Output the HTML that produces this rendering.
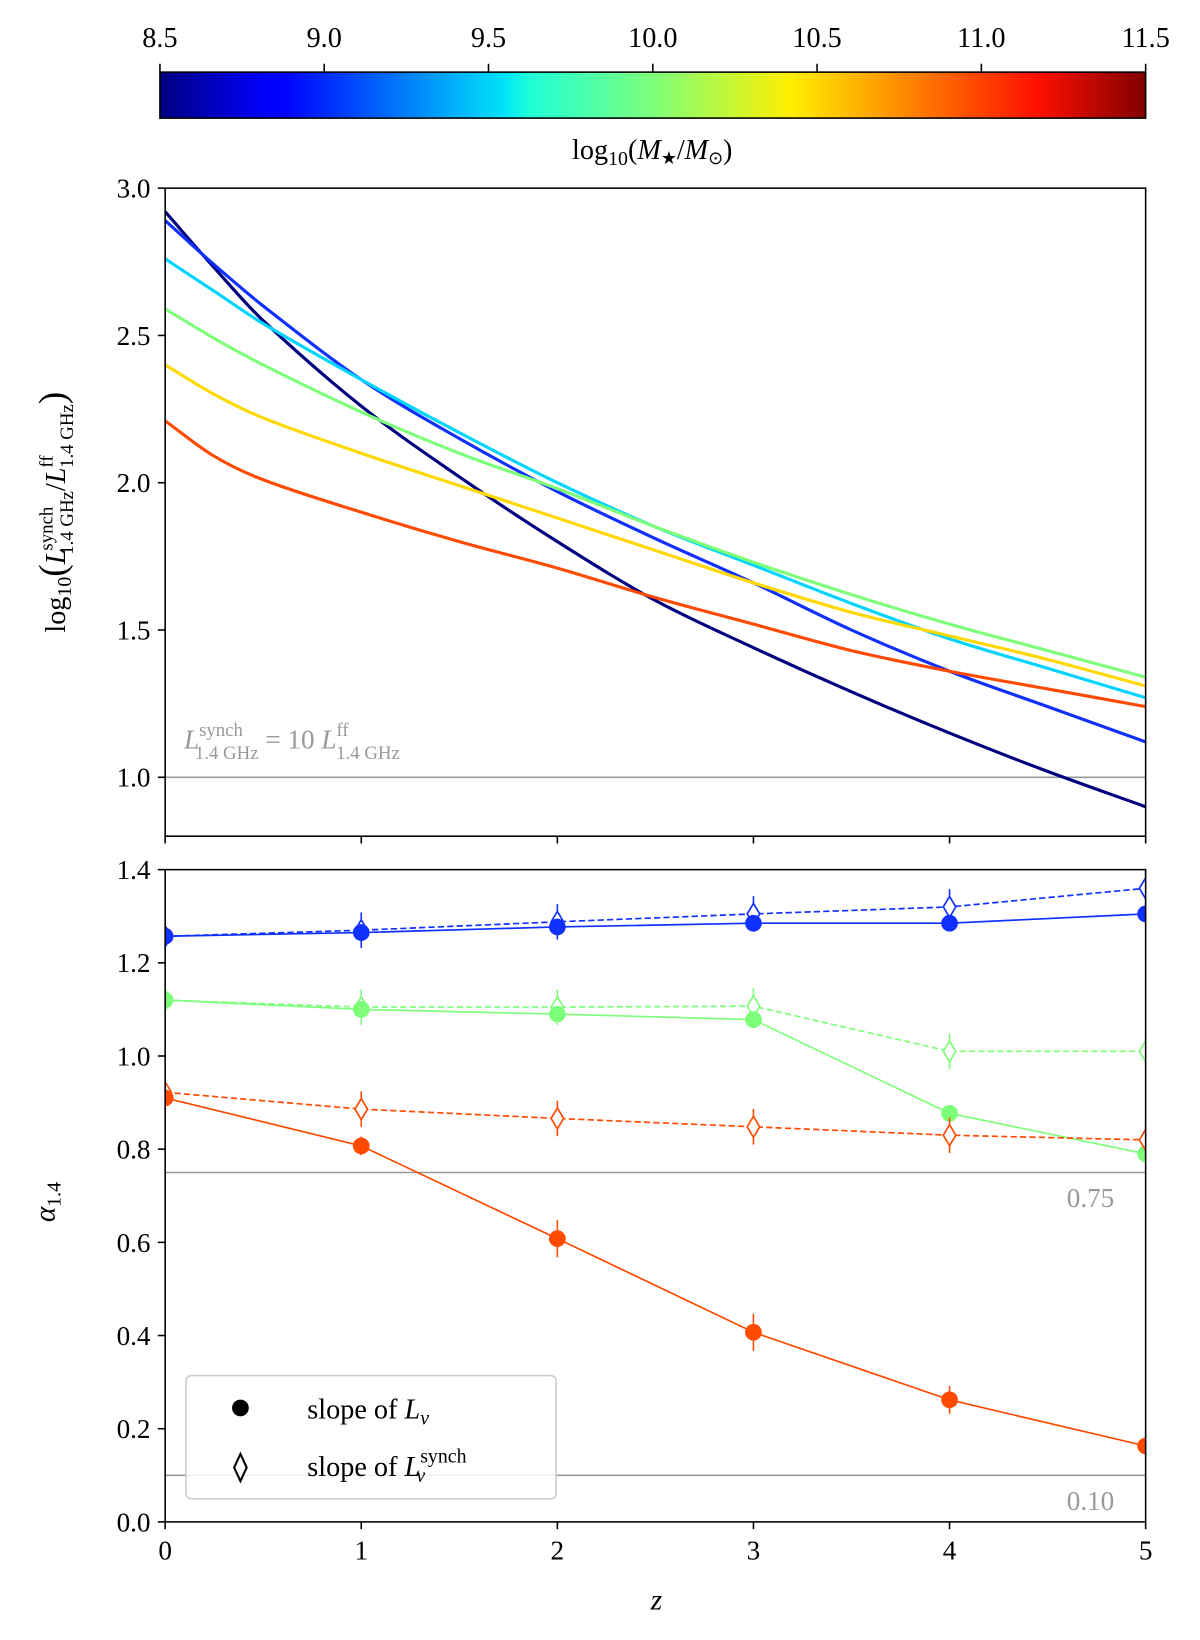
<!DOCTYPE html>
<html><head><meta charset="utf-8"><style>
html,body{margin:0;padding:0;background:#fff}
svg{display:block;font-family:"Liberation Serif",serif}
</style></head><body>
<svg id="fig" width="1200" height="1640" viewBox="0 0 1148 1569" preserveAspectRatio="none" xmlns="http://www.w3.org/2000/svg">
<defs>
<linearGradient id="jet" x1="0" x2="1" y1="0" y2="0">
<stop offset="0" stop-color="#000080"/><stop offset="0.11" stop-color="#0000ff"/><stop offset="0.125" stop-color="#0000ff"/>
<stop offset="0.35" stop-color="#00e4f8"/><stop offset="0.375" stop-color="#20ffd8"/><stop offset="0.5" stop-color="#7dff7a"/>
<stop offset="0.64" stop-color="#ffee00"/><stop offset="0.66" stop-color="#ffdd00"/><stop offset="0.89" stop-color="#ff1000"/><stop offset="1" stop-color="#800000"/>
</linearGradient>
<clipPath id="clipTop"><rect x="158" y="180" width="938" height="620"/></clipPath>
<clipPath id="clipBot"><rect x="158" y="832" width="938" height="624"/></clipPath>
</defs>
<g id="colorbar">
<rect x="153" y="69" width="943" height="44" fill="url(#jet)" stroke="#000" stroke-width="1.5"/>
</g>
<g id="cbticks"></g>
<text x="624" y="152" font-size="27" text-anchor="middle">log<tspan font-size="19" dy="6">10</tspan><tspan dy="-6">(</tspan><tspan font-style="italic">M</tspan><tspan font-size="17" dy="5">★</tspan><tspan dy="-5">/</tspan><tspan font-style="italic">M</tspan><tspan font-size="17" dy="5">⊙</tspan><tspan dy="-5">)</tspan></text>

<g id="topPanel"></g>
<g id="botPanel"></g>

<text transform="translate(62,490) rotate(-90)" font-size="27" text-anchor="middle">log<tspan font-size="19" dy="6">10</tspan><tspan dy="-6" font-size="36">(</tspan><tspan font-style="italic">L</tspan><tspan font-size="18" dx="-2" dy="-12">synch</tspan><tspan font-size="18" dx="-46" dy="20">1.4 GHz</tspan><tspan dy="-8">/</tspan><tspan font-style="italic">L</tspan><tspan font-size="18" dy="-12">ff</tspan><tspan font-size="18" dx="-12" dy="20">1.4 GHz</tspan><tspan dy="-8" font-size="36">)</tspan></text>
<text transform="translate(52,1150) rotate(-90)" font-size="28" text-anchor="middle" font-style="italic">α<tspan font-style="normal" font-size="19" dy="6">1.4</tspan></text>
<text x="628" y="1540" font-size="28" font-style="italic" text-anchor="middle">z</text>

<text x="176" y="716" font-size="26" fill="#999"><tspan font-style="italic">L</tspan><tspan font-size="18" dy="-12">synch</tspan><tspan font-size="18" dx="-46" dy="22">1.4 GHz</tspan><tspan dy="-10"> = 10 </tspan><tspan font-style="italic">L</tspan><tspan font-size="18" dy="-12">ff</tspan><tspan font-size="18" dx="-12" dy="22">1.4 GHz</tspan></text>

<g id="legend">
<rect x="178" y="1316" width="354" height="118" rx="5" fill="#fff" fill-opacity="0.85" stroke="#ccc" stroke-width="1.5"/>
<circle cx="230" cy="1347" r="8" fill="#000"/>
<text x="294" y="1357" font-size="27">slope of <tspan font-style="italic">L</tspan><tspan font-style="italic" font-size="19" dy="6">ν</tspan></text>
<path d="M230,1391 l6,13 l-6,13 l-6,-13 z" fill="#fff" stroke="#000" stroke-width="2"/>
<text x="294" y="1412" font-size="27">slope of <tspan font-style="italic">L</tspan><tspan font-size="19" dy="-13">synch</tspan><tspan font-style="italic" font-size="19" dx="-48" dy="19">ν</tspan></text>
</g>
</svg>
<script>
const NS="http://www.w3.org/2000/svg";
const cbTicks=[8.5,9.0,9.5,10.0,10.5,11.0,11.5];
const zGrid=[0,0.25,0.5,1,1.5,2,2.5,3,3.5,4,4.5,5];
const topMasses=["8.5","9.0","9.5","10.0","10.5","11.0"];
const topColors=["#00007f","#1030ff","#00d4ff","#7dff7a","#ffd800","#ff4a00"];
const ratio85=[2.92,2.73,2.55,2.26,2.02,1.80,1.60,1.44,1.29,1.15,1.02,0.90];
const ratio90=[2.89,2.74,2.60,2.35,2.15,1.97,1.81,1.66,1.50,1.36,1.24,1.12];
const ratio95=[2.76,2.65,2.54,2.35,2.17,2.00,1.85,1.72,1.59,1.47,1.37,1.27];
const ratio100=[2.59,2.49,2.40,2.24,2.10,1.98,1.85,1.73,1.62,1.52,1.43,1.34];
const ratio105=[2.40,2.30,2.22,2.10,1.99,1.88,1.77,1.66,1.56,1.48,1.40,1.31];
const ratio110=[2.21,2.09,2.01,1.90,1.80,1.71,1.61,1.52,1.43,1.36,1.30,1.24];
const topTicks=[1.0,1.5,2.0,2.5,3.0];
const zPts=[0,1,2,3,4,5];
const botColors=["#1030ff","#7dff7a","#ff4a00"];
const slopeTot90=[1.257,1.265,1.277,1.285,1.285,1.305];
const slopeSyn90=[1.257,1.270,1.288,1.305,1.320,1.360];
const slopeTot100=[1.120,1.100,1.090,1.078,0.877,0.790];
const slopeSyn100=[1.120,1.105,1.105,1.107,1.010,1.010];
const slopeTot110=[0.910,0.807,0.608,0.407,0.262,0.163];
const slopeSyn110=[0.922,0.886,0.866,0.848,0.830,0.820];
const errTot110=[0.03,0.02,0.04,0.04,0.03,0.02];
const botTicks=[0.0,0.2,0.4,0.6,0.8,1.0,1.2,1.4];
const xTicks=[0,1,2,3,4,5];
const refTop=1.0, refBot=[0.75,0.10];

const X=z=>158+z*(1096-158)/5;
const Ytop=v=>180+(3.0-v)*(800-180)/2.2;
const Ybot=v=>1456-v*(1456-832)/1.4;
const Xcb=m=>153+(m-8.5)*(1096-153)/3;
function el(tag,attrs,parent){const e=document.createElementNS(NS,tag);for(const k in attrs)e.setAttribute(k,attrs[k]);parent.appendChild(e);return e;}
const svgRoot=document.getElementById('fig');
const cbg=document.getElementById('cbticks');
cbTicks.forEach(m=>{
  const l=el('line',{x1:Xcb(m),x2:Xcb(m),y1:69,y2:61,stroke:'#000','stroke-width':1.5},cbg);
  
  
  const t=el('text',{x:Xcb(m),y:45,'font-size':27,'text-anchor':'middle'},cbg);
  t.textContent=m.toFixed(1);
  
  
});
function smooth(pts){let d="M"+pts[0][0]+","+pts[0][1];for(let i=0;i+1<pts.length;i++){const p0=pts[Math.max(0,i-1)],p1=pts[i],p2=pts[i+1],p3=pts[Math.min(pts.length-1,i+2)];const h=p2[0]-p1[0];const m1=(p2[1]-p0[1])/(p2[0]-p0[0]||1),m2=(p3[1]-p1[1])/(p3[0]-p1[0]||1);d+=" C"+(p1[0]+h/3)+","+(p1[1]+m1*h/3)+" "+(p2[0]-h/3)+","+(p2[1]-m2*h/3)+" "+p2[0]+","+p2[1];}return d;}
const topG=document.getElementById('topPanel');
const rl=el('line',{x1:158,x2:1096,y1:Ytop(refTop),y2:Ytop(refTop),stroke:'#999','stroke-width':1.5},topG);


const topSeries=[ratio85,ratio90,ratio95,ratio100,ratio105,ratio110];
const cg=el('g',{'clip-path':'url(#clipTop)'},topG);
topSeries.forEach((s,i)=>{
  const p=el('path',{d:smooth(s.map((v,j)=>[X(zGrid[j]),Ytop(v)])),fill:'none',stroke:topColors[i],'stroke-width':3},cg);
  
  
});
el('rect',{x:158,y:180,width:938,height:620,fill:'none',stroke:'#000','stroke-width':1.5},topG);
topTicks.forEach(v=>{
  el('line',{x1:151,x2:158,y1:Ytop(v),y2:Ytop(v),stroke:'#000','stroke-width':1.5},topG);
  const t=el('text',{x:144,y:Ytop(v)+9,'font-size':26,'text-anchor':'end'},topG);t.textContent=v.toFixed(1);
  
  
});
xTicks.forEach(z=>el('line',{x1:X(z),x2:X(z),y1:800,y2:807,stroke:'#000','stroke-width':1.5},topG));
const botG=document.getElementById('botPanel');
refBot.forEach(v=>{
  const l=el('line',{x1:158,x2:1096,y1:Ybot(v),y2:Ybot(v),stroke:'#999','stroke-width':1.5},botG);
  
  
  const t=el('text',{x:1066,y:Ybot(v)+33,'font-size':26,'text-anchor':'end',fill:'#999'},botG);t.textContent=v.toFixed(2);
  
  
});
const bg=el('g',{'clip-path':'url(#clipBot)'},botG);
const tot=[slopeTot90,slopeTot100,slopeTot110], syn=[slopeSyn90,slopeSyn100,slopeSyn110];
tot.forEach((s,i)=>{
  const c=botColors[i];
  const dl=el('polyline',{points:syn[i].map((v,j)=>X(zPts[j])+','+Ybot(v)).join(' '),fill:'none',stroke:c,'stroke-width':1.6,'stroke-dasharray':'6,3'},bg);
  
  
  const sl=el('polyline',{points:s.map((v,j)=>X(zPts[j])+','+Ybot(v)).join(' '),fill:'none',stroke:c,'stroke-width':1.6},bg);
  
  
  syn[i].forEach((v,j)=>{
    const x=X(zPts[j]),y=Ybot(v);
    el('line',{x1:x,x2:x,y1:y-17,y2:y+17,stroke:c,'stroke-width':1.5},bg);
    const d=el('path',{d:"M"+x+","+(y-10)+" l6,10 l-6,10 l-6,-10 z",fill:'#fff',stroke:c,'stroke-width':1.6},bg);
    
    
  });
  s.forEach((v,j)=>{
    const x=X(zPts[j]),y=Ybot(v),e=i===2?errTot110[j]:0.01;
    el('line',{x1:x,x2:x,y1:Ybot(v+e),y2:Ybot(v-e),stroke:c,'stroke-width':1.5},bg);
    const p=el('ellipse',{cx:x,cy:y,rx:8,ry:8,fill:c},bg);
    
    
  });
});
el('rect',{x:158,y:832,width:938,height:624,fill:'none',stroke:'#000','stroke-width':1.5},botG);
botTicks.forEach(v=>{
  el('line',{x1:151,x2:158,y1:Ybot(v),y2:Ybot(v),stroke:'#000','stroke-width':1.5},botG);
  const t=el('text',{x:144,y:Ybot(v)+9,'font-size':26,'text-anchor':'end'},botG);t.textContent=v.toFixed(1);
  
  
});
xTicks.forEach(z=>{
  el('line',{x1:X(z),x2:X(z),y1:1456,y2:1463,stroke:'#000','stroke-width':1.5},botG);
  const t=el('text',{x:X(z),y:1492,'font-size':26,'text-anchor':'middle'},botG);t.textContent=z;
  
  
});
svgRoot.appendChild(document.getElementById('legend'));
</script>
</body></html>
